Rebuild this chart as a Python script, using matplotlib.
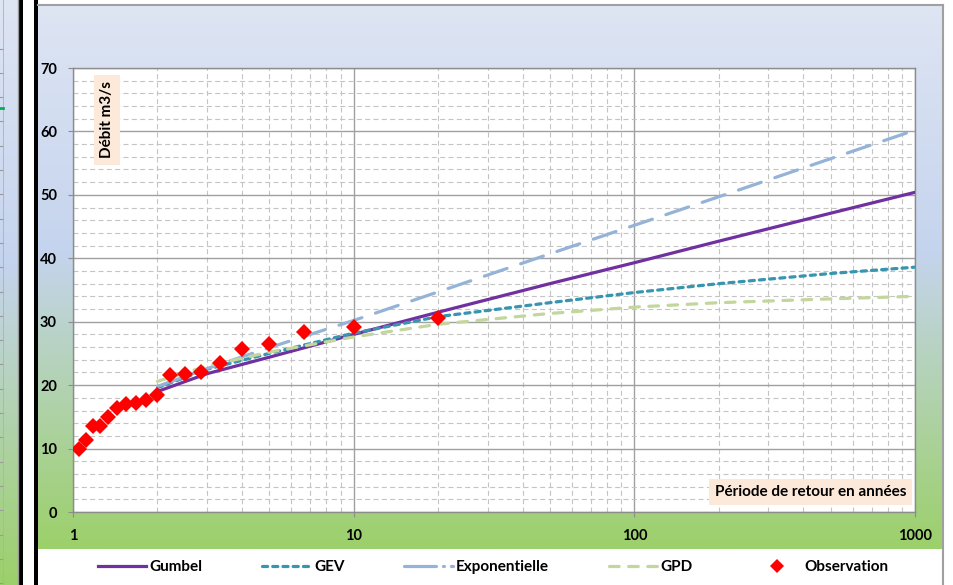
import numpy as np
import matplotlib
matplotlib.use('Agg')
import matplotlib.pyplot as plt
from matplotlib.lines import Line2D
from matplotlib.ticker import LogLocator, NullFormatter

# observations (période de retour, débit)
obs_T = [1.05, 1.11, 1.18, 1.25, 1.33, 1.43, 1.54, 1.67, 1.82, 2.0,
         2.22, 2.5, 2.86, 3.33, 4.0, 5.0, 6.67, 10.0, 20.0]
obs_q = [9.9, 11.3, 13.6, 13.6, 14.9, 16.4, 17.0, 17.2, 17.6, 18.4,
         21.6, 21.7, 22.1, 23.5, 25.7, 26.5, 28.3, 29.2, 30.6]

# lois ajustées
curve_T = [2, 3, 5, 10, 20, 50, 100, 200, 500, 1000]
gumbel = [19.0, 21.8, 24.4, 28.0, 31.5, 36.0, 39.3, 42.7, 47.1, 50.4]
gev = [19.6, 22.5, 25.0, 28.2, 30.8, 33.0, 34.6, 36.0, 37.6, 38.6]
expo = [19.8, 22.6, 25.9, 30.2, 34.7, 40.7, 45.2, 49.7, 55.7, 60.2]
gpd = [20.6, 23.0, 25.2, 27.6, 29.6, 31.3, 32.3, 33.0, 33.6, 34.0]

x_ticks = [1, 10, 100, 1000]
x_tick_labels = ['1', '10', '100', '1000']
y_ticks = [0, 10, 20, 30, 40, 50, 60, 70]

W, H = 954, 585
FONT = ['Lato', 'DejaVu Sans']
plt.rcParams['font.family'] = FONT
plt.rcParams['font.weight'] = 'bold'

C_GUMBEL = '#7030a0'
C_GEV = '#3795b0'
C_EXPO = '#95b3d7'
C_GPD = '#c3d69b'

fig = plt.figure(figsize=(W / 100, H / 100), dpi=100)
fig.patch.set_facecolor('white')


def gradient(n=300):
    stops = [(0.0, (222, 229, 243)), (0.45, (197, 212, 238)), (1.0, (156, 208, 106))]
    t = np.linspace(0, 1, n)
    pos = [s[0] for s in stops]
    cols = np.array([s[1] for s in stops]) / 255.0
    img = np.stack([np.interp(t, pos, cols[:, k]) for k in range(3)], axis=1)
    return img[:, None, :]


# background: neighbour sheet strip, separators, chart area
bg = fig.add_axes([0, 0, 1, 1], zorder=-10)
bg.axis('off')
bg.imshow(gradient(), extent=(0, 18, H, 0), aspect='auto')
for yy in np.arange(48.5, H, 24.3):
    bg.plot([0, 3], [yy, yy], color='#9a9a9a', lw=0.8)
bg.plot([3, 3], [0, H], color='#b0b0b0', lw=0.6)
bg.plot([18, 18], [0, H], color='#9a9a9a', lw=1)
bg.plot([0, 3], [108, 108], color='#00b050', lw=2)
bg.fill_between([19, 23], 0, H, color='black', lw=0)
bg.fill_between([34.5, 38], 0, H, color='black', lw=0)
bg.imshow(gradient(), extent=(38, 943, 549, 5), aspect='auto')
bg.plot([38, 943], [5, 5], color='#a0a0a0', lw=1.5)
bg.plot([943, 943], [5, H], color='#a0a0a0', lw=1.5)
bg.set_xlim(0, W)
bg.set_ylim(H, 0)

ax = fig.add_axes([73 / W, (H - 512) / H, (915 - 73) / W, (512 - 68) / H])
ax.set_facecolor('white')
ax.set_xscale('log')
ax.set_xlim(1, 1000)
ax.set_ylim(0, 70)

ax.plot(curve_T, gumbel, color=C_GUMBEL, lw=2.3, solid_capstyle='round', zorder=3)
ax.plot(curve_T, gev, color=C_GEV, lw=2.3, dashes=(1.6, 1.6),
        dash_capstyle='round', zorder=3)
ax.plot(curve_T, expo, color=C_EXPO, lw=2.3, dashes=(7.5, 4.5),
        dash_capstyle='round', zorder=3)
ax.plot(curve_T, gpd, color=C_GPD, lw=2.3, dashes=(3.0, 3.0),
        dash_capstyle='round', zorder=3)
ax.plot(obs_T, obs_q, 'D', color='#ff0000', ms=8.5, mew=0, zorder=4)

# grid
ax.set_xticks(x_ticks)
ax.set_xticklabels(x_tick_labels)
ax.xaxis.set_minor_locator(LogLocator(base=10, subs=np.arange(2, 10)))
ax.xaxis.set_minor_formatter(NullFormatter())
ax.set_yticks(y_ticks)
ax.set_yticks(np.arange(0, 71, 2), minor=True)
ax.grid(which='major', color='#a0a0a0', lw=1.0, ls='-', zorder=1)
ax.grid(which='minor', color='#c4c4c4', lw=0.8, dashes=(4.5, 3), zorder=1)
ax.set_axisbelow(True)
for sp in ax.spines.values():
    sp.set_color('#8c8c8c')
    sp.set_linewidth(1.0)
ax.tick_params(which='major', length=3.6, color='#8c8c8c', labelsize=10.5)
ax.tick_params(which='minor', length=0)
ax.tick_params(axis='y', pad=8)
ax.tick_params(axis='x', pad=9)

lab = dict(fontsize=11, fontweight='bold', family=FONT, transform=ax.transAxes,
           bbox=dict(boxstyle='square,pad=0.4', fc='#fde9d9', ec='none'), zorder=5)
ax.text(0.0404, 0.883, 'Débit m3/s', rotation=90, ha='center', va='center', **lab)
ax.text(0.876, 0.045, 'Période de retour en années', ha='center', va='center', **lab)

handles = [
    Line2D([], [], color=C_GUMBEL, lw=2.3),
    Line2D([], [], color=C_GEV, lw=2.3, dashes=(1.6, 1.6), dash_capstyle='round'),
    Line2D([], [], color=C_EXPO, lw=2.3, dashes=(10, 2.2, 0.3, 2.2), dash_capstyle='round'),
    Line2D([], [], color=C_GPD, lw=2.3, dashes=(3.0, 3.0), dash_capstyle='round'),
    Line2D([], [], ls='none', marker='D', color='#ff0000', ms=7, mew=0),
]
names = ['Gumbel', 'GEV', 'Exponentielle', 'GPD', 'Observation']
fig.legend(handles, names, loc='center', bbox_to_anchor=(493 / W, (H - 567) / H),
           ncol=5, frameon=False, handlelength=3.2, handletextpad=0.2,
           columnspacing=3.9, prop=dict(family=FONT, weight='bold', size=11))

fig.savefig('out.png', dpi=100)
